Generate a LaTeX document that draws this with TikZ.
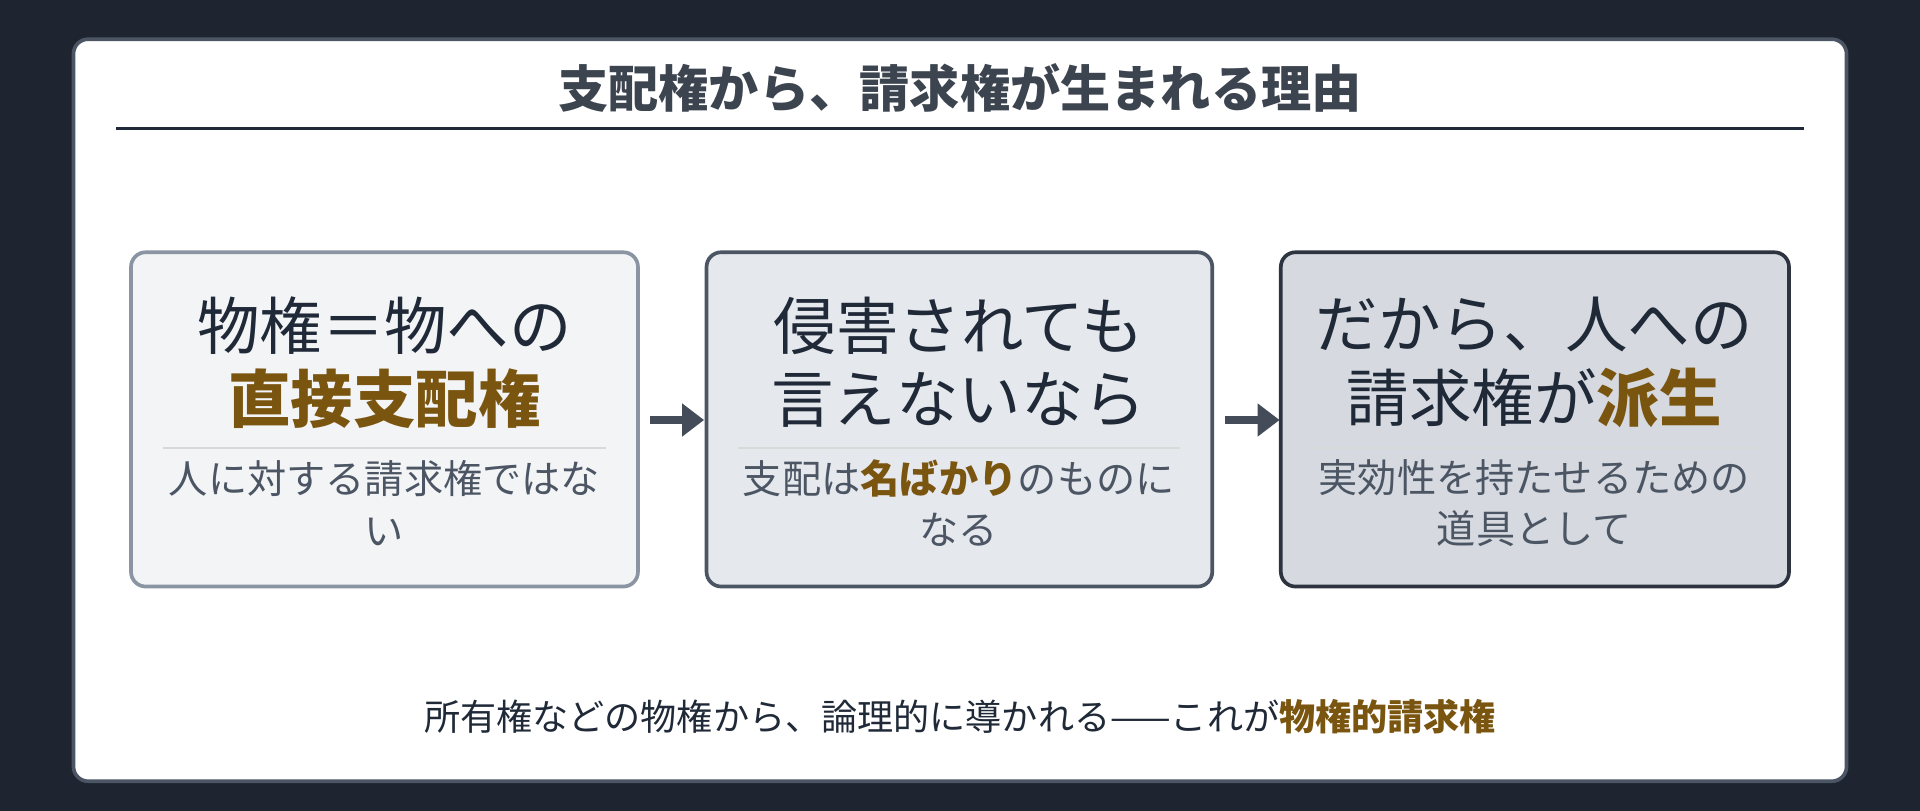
\documentclass[tikz,border=0pt]{standalone}
\usepackage{fontspec}
\setmainfont{Noto Sans CJK JP}
\usetikzlibrary{arrows.meta}
\definecolor{bg}{HTML}{1E2530}
\definecolor{hl}{HTML}{7A5510}
\definecolor{ink}{HTML}{1F2937}
\definecolor{sub}{HTML}{4B5563}
\definecolor{f1}{HTML}{F3F4F6}
\definecolor{f2}{HTML}{E5E8EC}
\definecolor{f3}{HTML}{D6DAE0}
\definecolor{b1}{HTML}{8A94A3}
\definecolor{b3}{HTML}{2D3440}
\tikzset{
 x=1pt,y=-1pt,
 box/.style={rounded corners=12pt,line width=3pt},
 main/.style={align=center,font=\fontsize{51}{60}\selectfont,text=ink},
 subt/.style={align=center,font=\fontsize{32}{42}\selectfont,text=sub},
 arr/.style={line width=7pt,-{Triangle[length=18pt,width=26pt]},draw=sub!90!black},
 sep/.style={draw=black!15,line width=1.5pt}
}
\newcommand{\hlt}[1]{{\bfseries\color{hl}#1}}
\begin{document}
\begin{tikzpicture}
\useasboundingbox (0,0) rectangle (1568,662);
\fill[bg] (0,0) rectangle (1568,662);
\draw[fill=white,draw=sub,line width=3pt,rounded corners=12pt] (60,32) rectangle (1508,638);
\node[font=\fontsize{41}{46}\selectfont\bfseries,text=sub!80!black] (title) at (784,72) {支配権から、請求権が生まれる理由};
\draw[ink,line width=2pt] (95,105) -- (1473,105);
\draw[box,fill=f1,draw=b1] (107,206) rectangle (521,479);
\draw[box,fill=f2,draw=sub] (577,206) rectangle (990,479);
\draw[box,fill=f3,draw=b3] (1046,206) rectangle (1461,479);
\node[main] (m1) at (314,296) {物権＝物への\\\hlt{直接支配権}};
\node[main] (m2) at (783,296) {侵害されても\\言えないなら};
\node[main] (m3) at (1253,296) {だから、人への\\請求権が\hlt{派生}};
\draw[sep] (133,366) -- (495,366);
\draw[sep] (603,366) -- (964,366);
\draw[sep] (1072,366) -- (1435,366);
\node[subt] (s1) at (314,411) {人に対する請求権ではな\\い};
\node[subt] (s2) at (783,411) {支配は\hlt{名ばかり}のものに\\なる};
\node[subt] (s3) at (1253,411) {実効性を持たせるための\\道具として};
\coordinate (a1) at (531,343); \coordinate (b1) at (575,343);
\coordinate (a2) at (1000,343); \coordinate (b2) at (1045,343);
\draw[arr] (a1) -- (b1);
\draw[arr] (a2) -- (b2);
\node[font=\fontsize{29.5}{34}\selectfont,text=ink] (foot) at (784,585) {所有権などの物権から、論理的に導かれる——これが\hlt{物権的請求権}};
\end{tikzpicture}
\end{document}
